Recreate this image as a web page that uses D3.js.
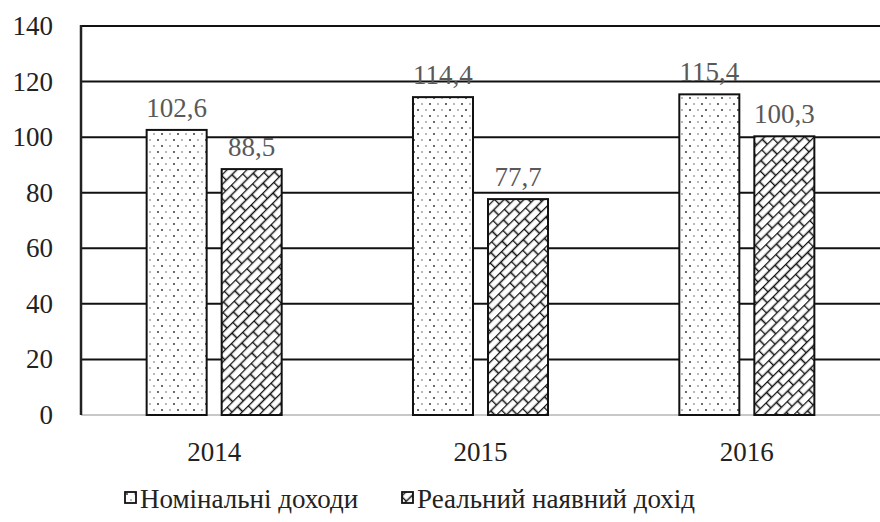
<!DOCTYPE html>
<html>
<head>
<meta charset="utf-8">
<script src="https://cdn.jsdelivr.net/npm/d3@7"></script>
<style>
  body { margin: 0; background: #fff; }
  svg text { font-family: "Liberation Serif", "Times New Roman", Times, "DejaVu Serif", serif; }
</style>
</head>
<body>
<div id="chart"></div>
<script>
const years = ["2014", "2015", "2016"];
const seriesNames = ["Номінальні доходи", "Реальний наявний дохід"];
const nominal = [102.6, 114.4, 115.4];
const real = [88.5, 77.7, 100.3];
const yTicks = [0, 20, 40, 60, 80, 100, 120, 140];

const width = 880;
const height = 522;
const margin = {top: 26, right: 0, bottom: 107, left: 81};
const serif = '"Liberation Serif", "Times New Roman", Times, serif';

const svg = d3.select("#chart")
    .append("svg")
    .attr("width", width)
    .attr("height", height)
    .attr("font-family", serif);

const defs = svg.append("defs");

// Dotted fill for nominal income.
const dots = defs.append("pattern")
    .attr("id", "dots")
    .attr("patternUnits", "userSpaceOnUse")
    .attr("width", 16)
    .attr("height", 12);
dots.append("rect").attr("width", 16).attr("height", 12).attr("fill", "#fff");
[[2, 2, "#222"], [10, 2, "#999"], [6, 8, "#999"], [14, 8, "#222"]].forEach(([cx, cy, c]) => {
    dots.append("circle").attr("cx", cx).attr("cy", cy).attr("r", 0.9).attr("fill", c);
});

// Diagonal brick fill for real income.
const brick = defs.append("pattern")
    .attr("id", "brick")
    .attr("patternUnits", "userSpaceOnUse")
    .attr("width", 16)
    .attr("height", 14)
    .attr("patternTransform", "rotate(-45)");
brick.append("rect").attr("width", 16).attr("height", 14).attr("fill", "#fff");
brick.append("path")
    .attr("d", "M0 0.5 H16 M0 7.5 H16 M0.5 0.5 V7.5 M8.5 7.5 V14.5")
    .attr("stroke", "#111")
    .attr("stroke-width", 1.6)
    .attr("fill", "none");

const fills = ["url(#dots)", "url(#brick)"];

// Scales.
const x = d3.scaleBand().domain(years).range([margin.left, width - margin.right]);
const xSub = d3.scaleBand().domain(seriesNames).range([0, x.bandwidth()])
    .paddingInner(0.2).paddingOuter(0.875);
const y = d3.scaleLinear().domain([0, 140]).range([height - margin.bottom, margin.top]);

// Gridlines.
svg.append("g")
    .selectAll("line")
    .data(yTicks.filter(d => d > 0))
    .enter()
    .append("line")
    .attr("x1", margin.left)
    .attr("x2", width - margin.right)
    .attr("y1", d => y(d))
    .attr("y2", d => y(d))
    .attr("stroke", "#111")
    .attr("stroke-width", 2);

// Baseline (light grey) and left axis line.
svg.append("line")
    .attr("x1", margin.left).attr("x2", width - margin.right)
    .attr("y1", y(0)).attr("y2", y(0))
    .attr("stroke", "#c8c8c8")
    .attr("stroke-width", 2);
svg.append("line")
    .attr("x1", margin.left).attr("x2", margin.left)
    .attr("y1", y(140) - 1).attr("y2", y(0))
    .attr("stroke", "#222")
    .attr("stroke-width", 2.5);

// Y tick labels.
svg.append("g")
    .selectAll("text")
    .data(yTicks)
    .enter()
    .append("text")
    .attr("x", 53)
    .attr("y", d => y(d) + 9)
    .attr("text-anchor", "end")
    .attr("font-size", "27px")
    .attr("fill", "#222")
    .text(d => d);

// Bars.
const rows = years.map((yr, i) => [
    {year: yr, s: seriesNames[0], v: nominal[i], f: fills[0]},
    {year: yr, s: seriesNames[1], v: real[i], f: fills[1]}
]).flat();

svg.append("g")
    .selectAll("rect")
    .data(rows)
    .enter()
    .append("rect")
    .attr("x", d => x(d.year) + xSub(d.s))
    .attr("y", d => y(d.v))
    .attr("width", xSub.bandwidth())
    .attr("height", d => y(0) - y(d.v))
    .attr("fill", d => d.f)
    .attr("stroke", "#111")
    .attr("stroke-width", 2);

// Value labels.
svg.append("g")
    .selectAll("text")
    .data(rows)
    .enter()
    .append("text")
    .attr("x", d => x(d.year) + xSub(d.s) + xSub.bandwidth() / 2)
    .attr("y", d => y(d.v) - 13)
    .attr("text-anchor", "middle")
    .attr("font-size", "27px")
    .attr("fill", "#595959")
    .text(d => d.v.toFixed(1).replace(".", ","));

// Category labels.
svg.append("g")
    .selectAll("text")
    .data(years)
    .enter()
    .append("text")
    .attr("x", d => x(d) + x.bandwidth() / 2)
    .attr("y", 461)
    .attr("text-anchor", "middle")
    .attr("font-size", "27px")
    .attr("fill", "#222")
    .text(d => d);

// Legend.
const legendX = [125, 402];
const legend = svg.append("g")
    .selectAll("g")
    .data(seriesNames)
    .enter()
    .append("g")
    .attr("transform", (d, i) => `translate(${legendX[i]},0)`);

legend.append("rect")
    .attr("x", 0)
    .attr("y", 492)
    .attr("width", 11)
    .attr("height", 11)
    .attr("fill", (d, i) => fills[i])
    .attr("stroke", "#111")
    .attr("stroke-width", 1.8);

legend.append("text")
    .attr("x", 15)
    .attr("y", 508)
    .attr("font-size", "27px")
    .attr("fill", "#222")
    .text(d => d);
</script>
</body>
</html>
